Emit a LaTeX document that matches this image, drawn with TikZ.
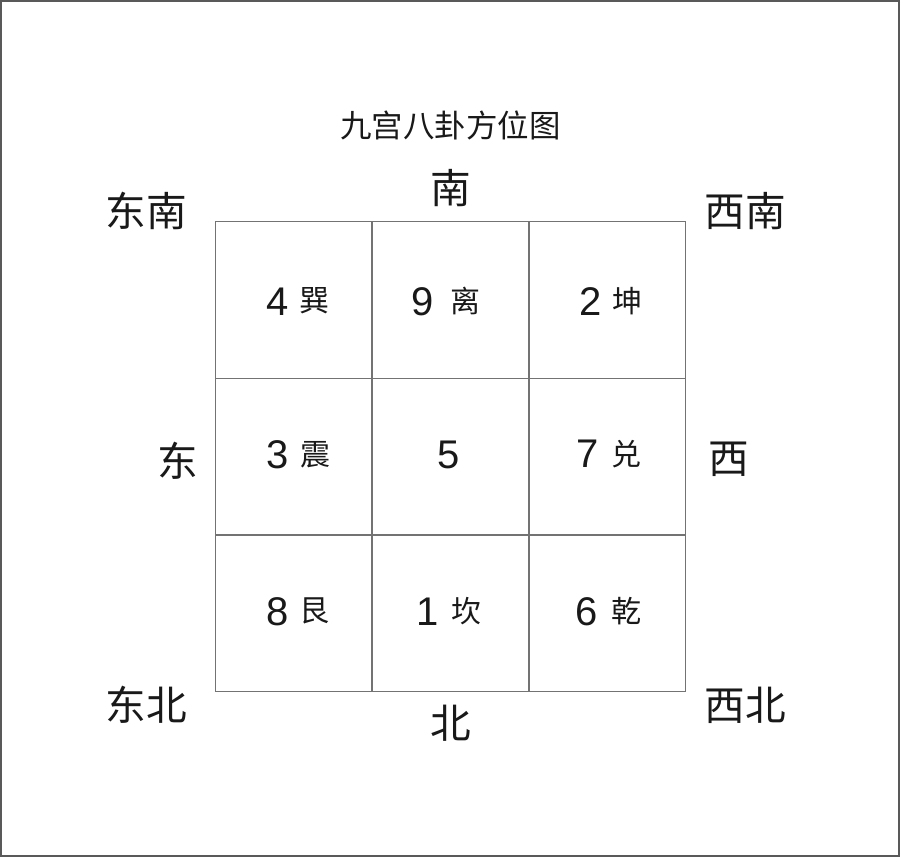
\documentclass[tikz,border=0pt]{standalone}
\usepackage{fontspec}
\setmainfont{Liberation Sans}
\newfontfamily\cjk{Noto Sans CJK SC}
\begin{document}
\begin{tikzpicture}[x=0.75pt,y=-0.75pt,
  digit/.style={inner sep=0pt,font=\fontsize{30}{30}\selectfont,text=black!90},
  gua/.style={inner sep=0pt,font=\cjk\fontsize{22.5}{22.5}\selectfont,text=black!90},
  dir/.style={inner sep=0pt,font=\cjk\fontsize{30.5}{30.5}\selectfont,text=black!90},
  ttl/.style={inner sep=0pt,font=\cjk\fontsize{23.6}{23.6}\selectfont,text=black!90},
  gridline/.style={draw=black!55,line width=0.8pt}]
\useasboundingbox (0,0) rectangle (900,857);
\fill[white] (0,0) rectangle (900,857);
\draw[draw=black!65,line width=1.5pt] (1,1) rectangle (899,856);
% grid
\draw[gridline] (215.5,221.5) rectangle (685.5,691.5);
\draw[gridline] (372,221.5) -- (372,691.5);
\draw[gridline] (529,221.5) -- (529,691.5);
\draw[gridline] (215.5,378.5) -- (685.5,378.5);
\draw[gridline] (215.5,535) -- (685.5,535);
% title
\node[ttl] (title) at (450.5,125) {九宫八卦方位图};
% directions
\node[dir] (s) at (451,188) {南};
\node[dir] (se) at (146,211) {东南};
\node[dir] (sw) at (745,211) {西南};
\node[dir] (e) at (178,461) {东};
\node[dir] (w) at (729,459) {西};
\node[dir] (ne) at (146,705) {东北};
\node[dir] (n) at (451,723) {北};
\node[dir] (nw) at (745,705) {西北};
% cells
\node[digit] (d4) at (277.5,302) {4};
\node[gua] (g4) at (314,301) {巽};
\node[digit] (d9) at (423,302) {9};
\node[gua] (g9) at (465.5,301) {离};
\node[digit] (d2) at (590.5,302) {2};
\node[gua] (g2) at (627,301) {坤};
\node[digit] (d3) at (278,455) {3};
\node[gua] (g3) at (315,455) {震};
\node[digit] (d5) at (449,455) {5};
\node[digit] (d7) at (588,454) {7};
\node[gua] (g7) at (626,454) {兑};
\node[digit] (d8) at (278,612) {8};
\node[gua] (g8) at (314,611) {艮};
\node[digit] (d1) at (428,612) {1};
\node[gua] (g1) at (466,611) {坎};
\node[digit] (d6) at (587,612) {6};
\node[gua] (g6) at (626,611) {乾};
\end{tikzpicture}
\end{document}
